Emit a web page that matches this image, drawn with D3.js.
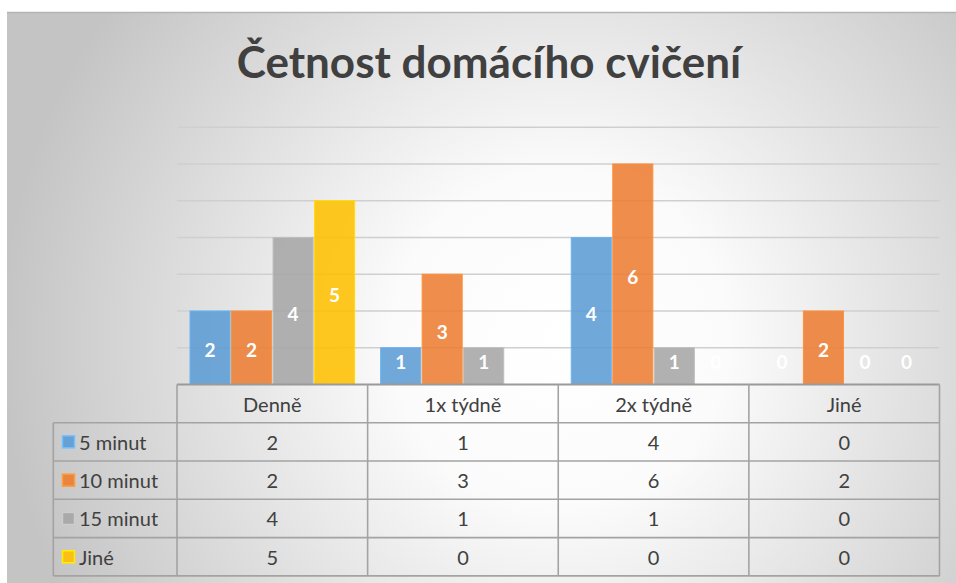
<!DOCTYPE html>
<html>
<head>
<meta charset="utf-8">
<script src="https://cdn.jsdelivr.net/npm/d3@7"></script>
<style>
  body { margin: 0; background: #fff; }
  svg { display: block; font-family: Lato, "Open Sans", sans-serif; }
</style>
</head>
<body>
<svg width="956" height="583"></svg>
<script>
const categories = ["Denně", "1x týdně", "2x týdně", "Jiné"];
const seriesNames = ["5 minut", "10 minut", "15 minut", "Jiné"];
const values5 = [2, 1, 4, 0];
const values10 = [2, 3, 6, 2];
const values15 = [4, 1, 1, 0];
const valuesJine = [5, 0, 0, 0];
const yTicks = [0, 1, 2, 3, 4, 5, 6, 7];
const title = "Četnost domácího cvičení";

const seriesValues = [values5, values10, values15, valuesJine];
const colors = ["#5B9BD5", "#ED7D31", "#A5A5A5", "#FFC000"];

const svg = d3.select("svg");

// background gradient
const defs = svg.append("defs");
const grad = defs.append("radialGradient")
  .attr("id", "bg")
  .attr("gradientUnits", "userSpaceOnUse")
  .attr("cx", 560).attr("cy", 340).attr("r", 560);
grad.append("stop").attr("offset", "0%").attr("stop-color", "#ffffff");
grad.append("stop").attr("offset", "30%").attr("stop-color", "#fbfbfb");
grad.append("stop").attr("offset", "100%").attr("stop-color", "#c4c4c4");

svg.append("rect")
  .attr("x", 7).attr("y", 12)
  .attr("width", 960).attr("height", 580)
  .attr("fill", "url(#bg)");
svg.append("line")
  .attr("x1", 7).attr("x2", 956).attr("y1", 12.5).attr("y2", 12.5)
  .attr("stroke", "#b4b4b4").attr("stroke-width", 1.5);

// title
svg.append("text")
  .attr("x", 489).attr("y", 78)
  .attr("text-anchor", "middle")
  .attr("fill", "#404040")
  .style("font-size", "44px")
  .style("font-weight", "bold")
  .text(title);

const plotLeft = 177, plotRight = 939.5, y0 = 384.5;
const x = d3.scaleBand().domain(categories).range([plotLeft, plotRight]);
const x1 = d3.scaleBand().domain(seriesNames).range([13, x.bandwidth() - 13]).paddingInner(0.035);
const y = d3.scaleLinear().domain([0, 7]).range([y0, y0 - 7 * 36.75]);

// gridlines
svg.append("g")
  .selectAll("line")
  .data(yTicks.filter(t => t > 0))
  .enter()
  .append("line")
  .attr("x1", plotLeft).attr("x2", plotRight)
  .attr("y1", d => y(d)).attr("y2", d => y(d))
  .attr("stroke", "#cfcfcf")
  .attr("stroke-width", 1.3);

// bars
const barData = [];
seriesNames.forEach((s, i) => {
  categories.forEach((c, j) => {
    barData.push({ series: s, cat: c, value: seriesValues[i][j], color: colors[i] });
  });
});

svg.append("g")
  .selectAll("rect")
  .data(barData.filter(d => d.value > 0))
  .enter()
  .append("rect")
  .attr("x", d => x(d.cat) + x1(d.series))
  .attr("y", d => y(d.value))
  .attr("width", x1.bandwidth())
  .attr("height", d => y0 - y(d.value))
  .attr("fill", d => d.color)
  .attr("fill-opacity", 0.87)
  .attr("stroke", d => d3.color(d.color).brighter(0.4))
  .attr("stroke-width", 1);

// data labels
svg.append("g")
  .selectAll("text")
  .data(barData)
  .enter()
  .append("text")
  .attr("x", d => x(d.cat) + x1(d.series) + x1.bandwidth() / 2)
  .attr("y", d => Math.min((y(d.value) + y0) / 2 + 2, y0 - 23))
  .attr("text-anchor", "middle")
  .attr("dominant-baseline", "central")
  .attr("fill", "#ffffff")
  .style("font-size", "19px")
  .style("font-weight", "bold")
  .text(d => d.value);

// data table
const headerTop = y0, rowH = 38.3, headerH = 38.2;
const tableLeft = 53.3;
const rowTop = i => headerTop + headerH + i * rowH;
const tableBottom = rowTop(seriesNames.length);
const lineColor = "#a3a3a3";
const table = svg.append("g");

// horizontal lines
table.append("line")
  .attr("x1", plotLeft).attr("x2", plotRight)
  .attr("y1", headerTop).attr("y2", headerTop)
  .attr("stroke", "#9a9a9a").attr("stroke-width", 2);
d3.range(seriesNames.length + 1).forEach(i => {
  table.append("line")
    .attr("x1", tableLeft).attr("x2", plotRight)
    .attr("y1", rowTop(i)).attr("y2", rowTop(i))
    .attr("stroke", lineColor).attr("stroke-width", 1.6);
});
// vertical lines
table.append("line")
  .attr("x1", tableLeft).attr("x2", tableLeft)
  .attr("y1", rowTop(0)).attr("y2", tableBottom)
  .attr("stroke", lineColor).attr("stroke-width", 1.6);
categories.forEach(c => {
  table.append("line")
    .attr("x1", x(c)).attr("x2", x(c))
    .attr("y1", headerTop).attr("y2", tableBottom)
    .attr("stroke", lineColor).attr("stroke-width", 1.6);
});
table.append("line")
  .attr("x1", plotRight).attr("x2", plotRight)
  .attr("y1", headerTop).attr("y2", tableBottom)
  .attr("stroke", lineColor).attr("stroke-width", 1.6);

// header texts
table.selectAll(".hdr")
  .data(categories)
  .enter()
  .append("text")
  .attr("class", "hdr")
  .attr("x", d => x(d) + x.bandwidth() / 2)
  .attr("y", headerTop + headerH / 2)
  .attr("text-anchor", "middle")
  .attr("dominant-baseline", "central")
  .attr("fill", "#404040")
  .style("font-size", "20px")
  .text(d => d);

// rows
seriesNames.forEach((s, i) => {
  const cy = rowTop(i) + rowH / 2;
  table.append("rect")
    .attr("x", 62.5).attr("y", cy - 6)
    .attr("width", 12).attr("height", 12)
    .attr("fill", colors[i])
    .attr("fill-opacity", 0.9)
    .attr("stroke", d3.color(colors[i]).brighter(0.6))
    .attr("stroke-width", 1.5);
  table.append("text")
    .attr("x", 79)
    .attr("y", cy)
    .attr("dominant-baseline", "central")
    .attr("fill", "#404040")
    .style("font-size", "20px")
    .text(s);
  categories.forEach((c, j) => {
    table.append("text")
      .attr("x", x(c) + x.bandwidth() / 2)
      .attr("y", cy)
      .attr("text-anchor", "middle")
      .attr("dominant-baseline", "central")
      .attr("fill", "#404040")
      .style("font-size", "20px")
      .text(seriesValues[i][j]);
  });
});
</script>
</body>
</html>
